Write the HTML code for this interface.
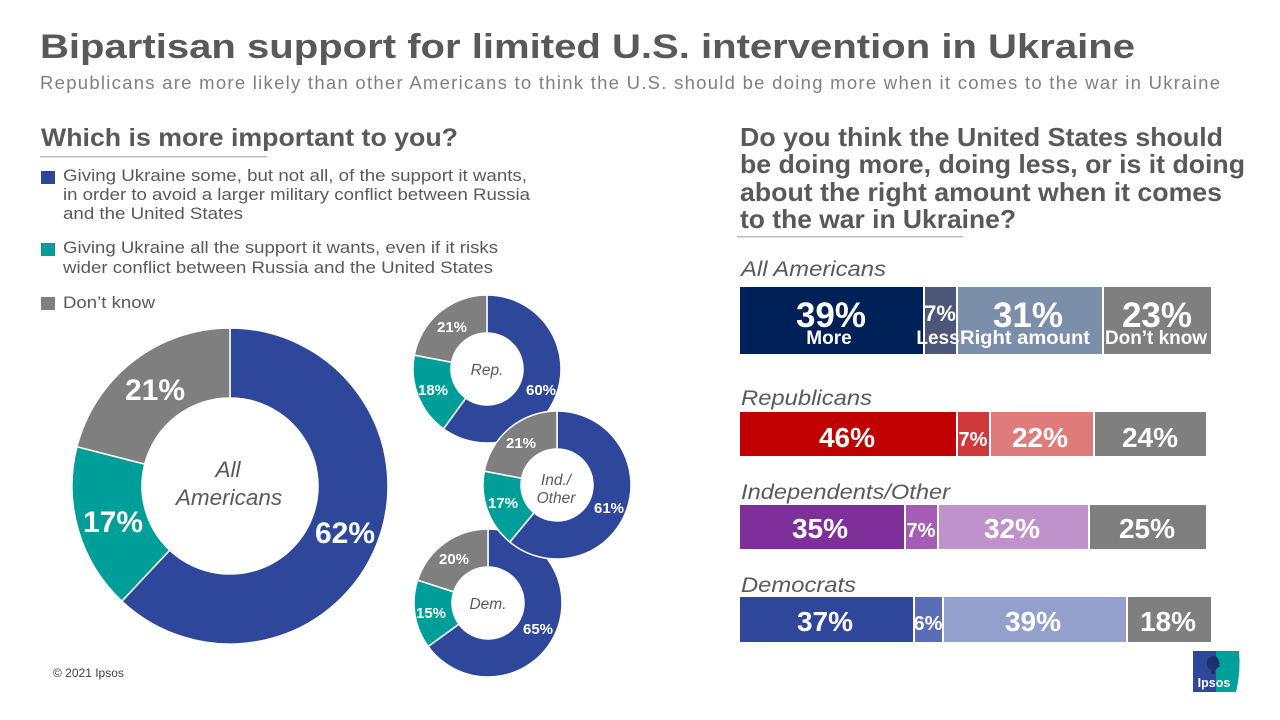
<!DOCTYPE html>
<html><head><meta charset="utf-8"><style>
html,body{margin:0;padding:0;background:#fff;}
svg{display:block;}
text{font-family:"Liberation Sans",Arial,sans-serif;}
</style></head><body>
<svg width="1280" height="720" viewBox="0 0 1280 720" xmlns="http://www.w3.org/2000/svg">
<rect width="1280" height="720" fill="#fff"/>
<!-- Title -->
<text x="40" y="58" font-size="34" font-weight="bold" fill="#595959" textLength="1095" lengthAdjust="spacingAndGlyphs">Bipartisan support for limited U.S. intervention in Ukraine</text>
<text x="40" y="89" font-size="18.5" fill="#7f7f7f" textLength="1180" lengthAdjust="spacing">Republicans are more likely than other Americans to think the U.S. should be doing more when it comes to the war in Ukraine</text>

<!-- Left heading -->
<text x="41" y="146" font-size="25" font-weight="bold" fill="#595959" textLength="417" lengthAdjust="spacingAndGlyphs">Which is more important to you?</text>
<rect x="40" y="156" width="227" height="1.5" fill="#bfbfbf"/>

<!-- Legend -->
<rect x="41" y="171" width="14" height="13" fill="#2e479b"/>
<g font-size="16.5" fill="#595959">
<text x="63" y="181" textLength="464" lengthAdjust="spacingAndGlyphs">Giving Ukraine some, but not all, of the support it wants,</text>
<text x="63" y="200" textLength="467" lengthAdjust="spacingAndGlyphs">in order to avoid a larger military conflict between Russia</text>
<text x="63" y="219" textLength="180" lengthAdjust="spacingAndGlyphs">and the United States</text>
</g>
<rect x="41" y="243" width="14" height="13" fill="#009e98"/>
<g font-size="16.5" fill="#595959">
<text x="63" y="253" textLength="435" lengthAdjust="spacingAndGlyphs">Giving Ukraine all the support it wants, even if it risks</text>
<text x="63" y="273" textLength="430" lengthAdjust="spacingAndGlyphs">wider conflict between Russia and the United States</text>
</g>
<rect x="41" y="297" width="14" height="13" fill="#7f7f7f"/>
<text x="63" y="308" font-size="16.5" fill="#595959" textLength="92" lengthAdjust="spacingAndGlyphs">Don’t know</text>

<!-- Big donut -->
<g stroke="#fff" stroke-width="1.5">
<path d="M230,328 A158,158 0 1 1 121.85,601.18 L169.76,550.15 A88,88 0 1 0 230,398 Z" fill="#2e479b"/>
<path d="M121.85,601.18 A158,158 0 0 1 76.96,446.70 L144.76,464.11 A88,88 0 0 0 169.76,550.15 Z" fill="#009e98"/>
<path d="M76.96,446.70 A158,158 0 0 1 230,328 L230,398 A88,88 0 0 0 144.76,464.11 Z" fill="#7f7f7f"/>
</g>
<g font-size="30" font-weight="bold" fill="#fff" text-anchor="middle">
<text x="345" y="543">62%</text>
<text x="113" y="532">17%</text>
<text x="155" y="400">21%</text>
</g>
<g font-size="22.5" font-style="italic" fill="#595959" text-anchor="middle">
<text x="228" y="477">All</text>
<text x="229" y="505">Americans</text>
</g>

<!-- Rep donut -->
<g stroke="#fff" stroke-width="1.5">
<path d="M487,295 A74,74 0 1 1 443.50,428.87 L465.84,398.12 A36,36 0 1 0 487,333 Z" fill="#2e479b"/>
<path d="M443.50,428.87 A74,74 0 0 1 414.31,355.13 L451.64,362.25 A36,36 0 0 0 465.84,398.12 Z" fill="#009e98"/>
<path d="M414.31,355.13 A74,74 0 0 1 487,295 L487,333 A36,36 0 0 0 451.64,362.25 Z" fill="#7f7f7f"/>
</g>
<!-- Dem donut -->
<g stroke="#fff" stroke-width="1.5">
<path d="M488,529 A74,74 0 1 1 428.13,646.50 L458.88,624.16 A36,36 0 1 0 488,567 Z" fill="#2e479b"/>
<path d="M428.13,646.50 A74,74 0 0 1 417.62,580.13 L453.76,591.88 A36,36 0 0 0 458.88,624.16 Z" fill="#009e98"/>
<path d="M417.62,580.13 A74,74 0 0 1 488,529 L488,567 A36,36 0 0 0 453.76,591.88 Z" fill="#7f7f7f"/>
</g>
<!-- Ind donut -->
<g stroke="#fff" stroke-width="1.5">
<path d="M557,411 A74,74 0 1 1 509.83,542.02 L534.05,512.74 A36,36 0 1 0 557,449 Z" fill="#2e479b"/>
<path d="M509.83,542.02 A74,74 0 0 1 484.31,471.13 L521.64,478.25 A36,36 0 0 0 534.05,512.74 Z" fill="#009e98"/>
<path d="M484.31,471.13 A74,74 0 0 1 557,411 L557,449 A36,36 0 0 0 521.64,478.25 Z" fill="#7f7f7f"/>
</g>
<g font-size="15" font-weight="bold" fill="#fff" text-anchor="middle">
<text x="452" y="332">21%</text>
<text x="433" y="395">18%</text>
<text x="541" y="395">60%</text>
<text x="521" y="448">21%</text>
<text x="503" y="508">17%</text>
<text x="609" y="513">61%</text>
<text x="454" y="564">20%</text>
<text x="431" y="618">15%</text>
<text x="538" y="634">65%</text>
</g>
<g font-size="15.5" font-style="italic" fill="#595959" text-anchor="middle">
<text x="487" y="375">Rep.</text>
<text x="556" y="485">Ind./</text>
<text x="556" y="503">Other</text>
<text x="488" y="609">Dem.</text>
</g>

<!-- Right heading -->
<g font-size="26" font-weight="bold" fill="#595959">
<text x="740" y="146" textLength="483" lengthAdjust="spacingAndGlyphs">Do you think the United States should</text>
<text x="740" y="173" textLength="505" lengthAdjust="spacingAndGlyphs">be doing more, doing less, or is it doing</text>
<text x="740" y="201" textLength="482" lengthAdjust="spacingAndGlyphs">about the right amount when it comes</text>
<text x="740" y="228" textLength="276" lengthAdjust="spacingAndGlyphs">to the war in Ukraine?</text>
</g>
<rect x="737" y="236" width="226" height="1.5" fill="#bfbfbf"/>

<!-- Bar group labels -->
<g font-size="21" font-style="italic" fill="#595959">
<text x="741" y="276" textLength="145" lengthAdjust="spacingAndGlyphs">All Americans</text>
<text x="741" y="405" textLength="131" lengthAdjust="spacingAndGlyphs">Republicans</text>
<text x="741" y="499" textLength="209" lengthAdjust="spacingAndGlyphs">Independents/Other</text>
<text x="741" y="592" textLength="115" lengthAdjust="spacingAndGlyphs">Democrats</text>
</g>

<!-- All Americans bar -->
<rect x="740" y="287" width="183" height="67" fill="#002157"/>
<rect x="925" y="287" width="31" height="67" fill="#4b5678"/>
<rect x="958" y="287" width="144" height="67" fill="#7b8eaa"/>
<rect x="1104" y="287" width="107" height="67" fill="#7f7f7f"/>
<g font-weight="bold" fill="#fff" text-anchor="middle">
<text x="831" y="327" font-size="35">39%</text>
<text x="829" y="344" font-size="19">More</text>
<text x="940" y="321" font-size="22">7%</text>
<text x="938" y="344" font-size="19">Less</text>
<text x="1028" y="327" font-size="35">31%</text>
<text x="1025" y="344" font-size="19" textLength="130" lengthAdjust="spacingAndGlyphs">Right amount</text>
<text x="1157" y="327" font-size="35">23%</text>
<text x="1156" y="344" font-size="19" textLength="102" lengthAdjust="spacingAndGlyphs">Don’t know</text>
</g>

<!-- Republicans bar -->
<rect x="740" y="412" width="216" height="44" fill="#c00000"/>
<rect x="958" y="412" width="31" height="44" fill="#d0393b"/>
<rect x="991" y="412" width="102" height="44" fill="#e07b7b"/>
<rect x="1095" y="412" width="111" height="44" fill="#7f7f7f"/>
<!-- Independents bar -->
<rect x="740" y="505" width="164" height="44" fill="#7f2f9a"/>
<rect x="906" y="505" width="31" height="44" fill="#a35db5"/>
<rect x="939" y="505" width="149" height="44" fill="#bf92cb"/>
<rect x="1090" y="505" width="116" height="44" fill="#7f7f7f"/>
<!-- Democrats bar -->
<rect x="740" y="597" width="173" height="45" fill="#2e479b"/>
<rect x="915" y="597" width="27" height="45" fill="#5b6db5"/>
<rect x="944" y="597" width="182" height="45" fill="#94a0cc"/>
<rect x="1128" y="597" width="83" height="45" fill="#7f7f7f"/>

<g font-weight="bold" fill="#fff" text-anchor="middle" font-size="28">
<text x="847" y="447">46%</text>
<text x="973" y="446" font-size="20">7%</text>
<text x="1040" y="447">22%</text>
<text x="1150" y="447">24%</text>
<text x="820" y="538">35%</text>
<text x="921" y="537" font-size="20">7%</text>
<text x="1012" y="538">32%</text>
<text x="1147" y="538">25%</text>
<text x="825" y="631">37%</text>
<text x="928" y="630" font-size="20">6%</text>
<text x="1033" y="631">39%</text>
<text x="1168" y="631">18%</text>
</g>

<!-- Footer -->
<text x="53" y="677" font-size="12" fill="#404040">© 2021 Ipsos</text>

<!-- Ipsos logo -->
<rect x="1193" y="651" width="23" height="41" fill="#2e479b"/>
<path d="M1216,651 L1239,651 Q1241,672 1236,692 L1216,692 Z" fill="#00a09a"/>
<path d="M1214,656 q-7,0 -7,7 q0,5 4,7 l0,4 l4,0 l0,-4 q2,-1 3,-3 l2,0 l-1,-2 q1,-1 0,-3 q-1,-6 -5,-6 Z" fill="#1f2f6e"/>
<text x="1214" y="687" font-size="12.5" font-weight="bold" fill="#fff" text-anchor="middle">Ipsos</text>
</svg>
</body></html>
